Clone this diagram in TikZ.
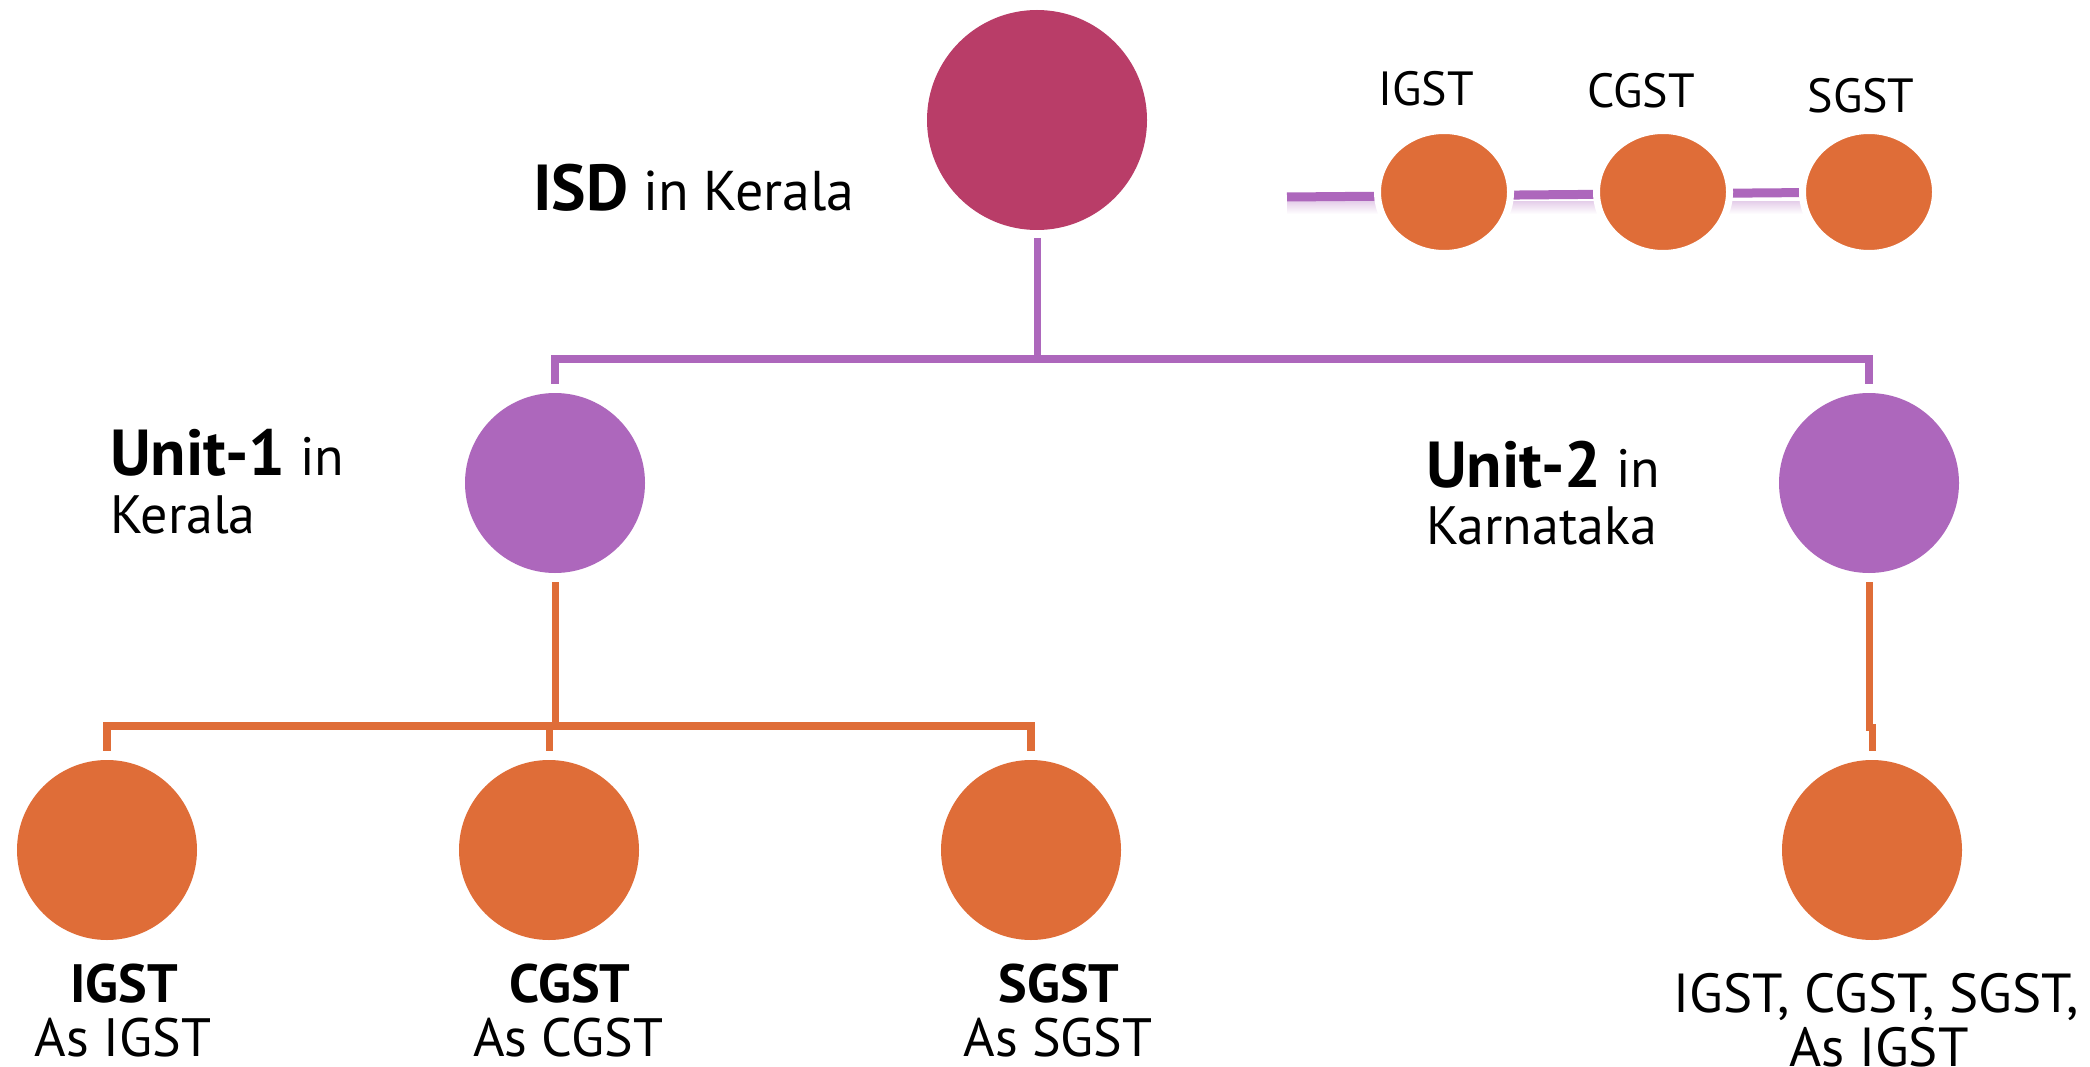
\documentclass[tikz,border=0pt]{standalone}
\usepackage{fontspec}
\setmainfont{PT Sans}
\usetikzlibrary{shapes.geometric,backgrounds}
\definecolor{isdcol}{RGB}{185,61,104}
\definecolor{purp}{RGB}{173,103,188}
\definecolor{orng}{RGB}{223,109,56}
\newcommand{\bigbold}{\fontsize{65}{70}\selectfont\bfseries}
\tikzset{
  isdc/.style={circle, fill=isdcol, minimum size=220, inner sep=0},
  unitc/.style={circle, fill=purp, minimum size=180, inner sep=0},
  taxc/.style={circle, fill=orng, minimum size=180, inner sep=0},
  legc/.style={ellipse, fill=orng, draw=white, line width=7, minimum width=133, minimum height=123, inner sep=0},
  pline/.style={draw=purp, line width=7},
  oline/.style={draw=orng, line width=7},
  lbl/.style={inner sep=0, text=black},
  reg/.style={font=\fontsize{54}{60}\selectfont},
  regb/.style={font=\fontsize{54}{60}\selectfont\bfseries},
  leg/.style={font=\fontsize{48}{54}\selectfont},
}
\begin{document}
\begin{tikzpicture}[x=1pt,y=-1pt]
\useasboundingbox (0,0) rectangle (2090,1067);
% nodes
\node[isdc] (isd) at (1037,120) {};
\node[unitc] (u1) at (555,483) {};
\node[unitc] (u2) at (1869,483) {};
\node[taxc] (t1) at (107,850) {};
\node[taxc] (t2) at (549,850) {};
\node[taxc] (t3) at (1031,850) {};
\node[taxc] (t4) at (1872,850) {};
% legend
\coordinate (lstart) at (1287,197);
\node[legc] (lg1) at (1444,192) {};
\node[legc] (lg2) at (1663,192) {};
\node[legc] (lg3) at (1869,192) {};
\node[lbl,leg,anchor=base] (lgt1) at (1426,106) {IGST};
\node[lbl,leg,anchor=base] (lgt2) at (1641,108) {CGST};
\node[lbl,leg,anchor=base] (lgt3) at (1861,113) {SGST};
% labels
\node[lbl,anchor=base west,font=\fontsize{56}{60}\selectfont] (isdl) at (533,211) {{\bigbold ISD} in Kerala};
\node[lbl,reg,anchor=base west] (u1l) at (110,475) {{\bigbold Unit-1} in};
\node[lbl,reg,anchor=base west] (u1k) at (110,533) {Kerala};
\node[lbl,reg,anchor=base west] (u2l) at (1426,487) {{\bigbold Unit-2} in};
\node[lbl,reg,anchor=base west] (u2k) at (1426,544) {Karnataka};
\node[lbl,regb,anchor=base] (t1a) at (124,1002) {IGST};
\node[lbl,reg,anchor=base] (t1b) at (123,1056) {As IGST};
\node[lbl,regb,anchor=base] (t2a) at (570,1002) {CGST};
\node[lbl,reg,anchor=base] (t2b) at (568,1056) {As CGST};
\node[lbl,regb,anchor=base] (t3a) at (1059,1002) {SGST};
\node[lbl,reg,anchor=base] (t3b) at (1058,1056) {As SGST};
\node[lbl,anchor=base,font=\fontsize{55}{60}\selectfont] (t4a) at (1876,1012) {IGST, CGST, SGST,};
\node[lbl,anchor=base,font=\fontsize{55}{60}\selectfont] (t4b) at (1879,1066) {As IGST};
% connectors
\coordinate (j1) at (1037,359);
\coordinate (j2) at (555,726);
\coordinate (k1) at (1869,727);
\begin{scope}[on background layer]
  \fill[white] (0,0) rectangle (2090,1067);
  \fill[top color=purp!30!white, bottom color=white] (1287,202) rectangle (1805,214);
  \draw[pline,line width=9] (lstart) -- (lg3.center);
  \draw[pline] ([yshift=-8]isd.south) -- (j1);
  \draw[pline,line width=8] ([yshift=9]u1.north) -- (u1.north |- j1) -- (u2.north |- j1) -- ([yshift=9]u2.north);
  \draw[oline] ([yshift=-9]u1.south) -- (j2);
  \draw[oline,line width=8] ([yshift=9]t1.north) -- (t1.north |- j2) -- (t3.north |- j2) -- ([yshift=9]t3.north);
  \draw[oline] (t2.north |- j2) -- ([yshift=9]t2.north);
  \draw[oline] ([yshift=-9]u2.south) -- (k1) -- (t4.north |- k1) -- ([yshift=9]t4.north);
\end{scope}
\end{tikzpicture}
\end{document}
